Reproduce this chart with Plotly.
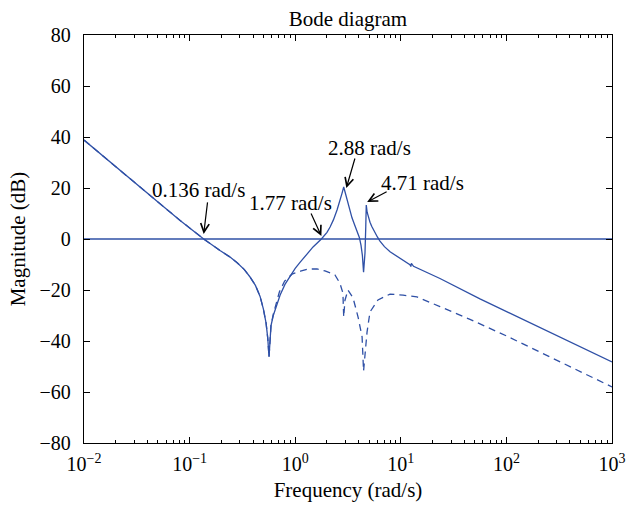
import math
import plotly.graph_objects as go

# Open-loop magnitude (solid) and compensated response (dashed), rad/s vs dB
freq_solid = [0.01, 0.0178, 0.0316, 0.0525, 0.0813, 0.136, 0.194, 0.24, 0.282,
              0.33, 0.372, 0.42, 0.465, 0.50, 0.53, 0.55, 0.565, 0.575, 0.59,
              0.62, 0.66, 0.72, 0.80, 0.90, 1.0, 1.11, 1.25, 1.476, 1.77,
              2.0, 2.14, 2.3, 2.49, 2.65, 2.77, 2.88, 3.0, 3.15, 3.3, 3.45,
              3.65, 3.85, 4.05, 4.2, 4.33, 4.44, 4.58, 4.66, 4.71, 4.8, 4.95,
              5.11, 5.3, 5.5, 5.75, 6.0, 6.35, 7.0, 7.91, 9.0, 9.82, 11.0,
              12.2, 12.45, 12.6, 13.2, 16.0, 23.5, 56.2, 100, 316, 1000]
mag_solid = [38.8, 30.0, 21.2, 13.8, 7.3, 0.0, -4.5, -7.0, -9.3,
             -12.0, -14.8, -18.2, -22.5, -27.5, -33.0, -39.0, -46.3, -39.0, -34.0,
             -30.0, -26.3, -22.0, -17.8, -14.2, -11.5, -9.2, -6.5, -3.1, 0.0,
             2.6, 4.7, 7.5, 11.4, 14.8, 17.8, 20.4, 17.6, 14.0, 10.8, 8.3,
             5.6, 3.3, 0.6, -2.5, -6.5, -13.0, -5.5, 5.0, 13.3, 10.5, 8.2,
             6.6, 5.0, 3.6, 2.1, 0.8, -0.8, -3.0, -5.0, -6.6, -7.6, -9.0,
             -10.1, -10.8, -9.6, -10.7, -12.3, -15.5, -23.5, -28.4, -38.3, -48.2]

freq_dashed = [0.01, 0.0178, 0.0316, 0.0525, 0.0813, 0.136, 0.194, 0.24, 0.282,
               0.33, 0.372, 0.42, 0.465, 0.50, 0.53, 0.55, 0.565, 0.575, 0.59,
               0.62, 0.66, 0.708, 0.794, 0.933, 1.122, 1.318, 1.607, 1.914,
               2.38, 2.65, 2.83, 2.88, 2.96, 3.16, 3.53, 3.94, 4.30, 4.44, 4.79,
               5.11, 6.08, 7.91, 10.5, 14.2, 23.5, 45.2, 100, 316, 1000]
mag_dashed = [38.8, 30.0, 21.2, 13.8, 7.3, 0.0, -4.5, -7.0, -9.3,
              -12.0, -14.8, -18.2, -22.5, -27.5, -33.0, -39.0, -46.3, -39.0, -34.0,
              -29.5, -25.5, -20.8, -16.5, -13.8, -12.6, -11.8, -11.7, -12.5,
              -14.1, -17.3, -21.2, -30.6, -24.0, -20.0, -23.1, -30.6, -38.4, -51.8, -36.5,
              -28.6, -23.9, -21.6, -22.0, -22.7, -26.5, -31.5, -38.0, -48.0, -58.0]

# Crossover / resonance frequencies called out on the chart
callouts = [
    # label, tip freq, tip dB, text freq, text dB, arrow tail offset (px)
    ("0.136 rad/s", 0.136, 2.0, 0.1227, 19.2, 4, -33),
    ("1.77 rad/s", 1.77, 1.2, 0.893, 14.1, -11, -24),
    ("2.88 rad/s", 3.05, 20.0, 5.1, 35.7, 9, -31),
    ("4.71 rad/s", 4.80, 14.5, 16.2, 22.0, 21, -11),
]

x_tick_vals = [0.01, 0.1, 1, 10, 100, 1000]
x_tick_text = ["10<sup>\u22122</sup>", "10<sup>\u22121</sup>", "10<sup>0</sup>",
               "10<sup>1</sup>", "10<sup>2</sup>", "10<sup>3</sup>"]
y_tick_vals = [-80, -60, -40, -20, 0, 20, 40, 60, 80]

minor_vals = [k * d for d in [0.01, 0.1, 1, 10, 100] for k in range(2, 10)]

line_color = "#2f50a6"
font_family = "Liberation Serif"

fig = go.Figure()
fig.add_trace(go.Scatter(x=[0.01, 1000], y=[0, 0], mode="lines",
                         line=dict(color=line_color, width=1.3), showlegend=False))
fig.add_trace(go.Scatter(x=freq_dashed, y=mag_dashed, mode="lines",
                         line=dict(color=line_color, width=1.3, dash="7px,5px"),
                         showlegend=False))
fig.add_trace(go.Scatter(x=freq_solid, y=mag_solid, mode="lines",
                         line=dict(color=line_color, width=1.3), showlegend=False))

# annotation x positions on a log axis are given in log10 units
annotations = []
for label, fx, fy, tx, ty, ax, ay in callouts:
    annotations.append(dict(x=math.log10(fx), y=fy, xref="x", yref="y", text="",
                            showarrow=True, arrowhead=5, arrowsize=1.4,
                            arrowwidth=1.2, arrowcolor="black", ax=ax, ay=ay))
    annotations.append(dict(x=math.log10(tx), y=ty, xref="x", yref="y", text=label,
                            showarrow=False, font=dict(size=21, color="black",
                                                       family=font_family)))

fig.update_layout(
    width=626, height=512,
    margin=dict(l=84, r=14, t=35, b=69),
    paper_bgcolor="white", plot_bgcolor="white",
    font=dict(family=font_family, size=20, color="black"),
    title=dict(text="Bode diagram", x=0.5, xref="paper", y=1 - 19 / 512,
               yref="container", xanchor="center", yanchor="middle",
               font=dict(size=21, family=font_family, color="black")),
    annotations=annotations,
)
fig.update_xaxes(
    type="log", range=[-2, 3], showgrid=False, zeroline=False, automargin=False,
    tickvals=x_tick_vals, ticktext=x_tick_text,
    ticks="inside", ticklen=6, tickwidth=1, tickcolor="black",
    minor=dict(tickvals=minor_vals, ticks="inside", ticklen=3,
               tickcolor="black", showgrid=False),
    showline=True, linecolor="black", linewidth=1.3, mirror="allticks",
    ticklabelstandoff=3,
    title=dict(text="Frequency (rad/s)", standoff=8,
               font=dict(size=21, family=font_family)),
)
fig.update_yaxes(
    range=[-80, 80], showgrid=False, zeroline=False, automargin=False,
    tickvals=y_tick_vals,
    ticks="inside", ticklen=6, tickwidth=1, tickcolor="black",
    showline=True, linecolor="black", linewidth=1.3, mirror="allticks",
    ticklabelstandoff=8,
    title=dict(text="Magnitude (dB)", standoff=8,
               font=dict(size=21, family=font_family)),
)

fig.write_html("out.html")
